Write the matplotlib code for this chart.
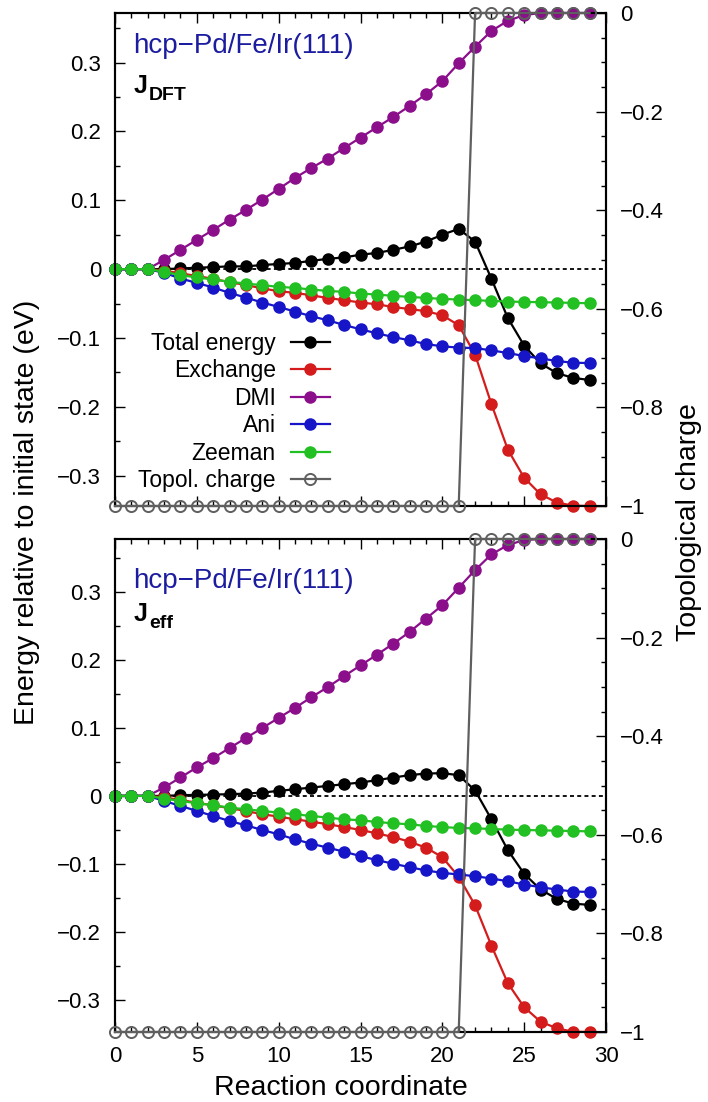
import matplotlib
matplotlib.use("Agg")
import matplotlib.pyplot as plt
from matplotlib.ticker import MultipleLocator, FixedLocator, FixedFormatter

plt.rcParams['font.family'] = ['Liberation Sans', 'DejaVu Sans']

# ---------------- data ----------------
reaction = [0, 1, 2, 3, 4, 5, 6, 7, 8, 9, 10, 11, 12, 13, 14, 15, 16, 17, 18, 19,
            20, 21, 22, 23, 24, 25, 26, 27, 28, 29]

# J_DFT panel
dft_total = [0, 0, 0, 0.000, 0.001, 0.002, 0.003, 0.004, 0.004, 0.006, 0.0075, 0.009,
             0.012, 0.015, 0.017, 0.021, 0.0235, 0.028, 0.033, 0.040, 0.050, 0.0585,
             0.040, -0.014, -0.071, -0.111, -0.137, -0.151, -0.158, -0.161]
dft_exchange = [0, 0, 0, -0.002, -0.006, -0.010, -0.014, -0.019, -0.023, -0.028, -0.032,
                -0.0345, -0.038, -0.042, -0.045, -0.0485, -0.051, -0.055, -0.058, -0.061,
                -0.067, -0.0815, -0.124, -0.196, -0.262, -0.303, -0.327, -0.339, -0.3435,
                -0.344]
dft_dmi = [0, 0, 0, 0.0135, 0.028, 0.0427, 0.057, 0.072, 0.086, 0.101, 0.1165, 0.1325,
           0.147, 0.1606, 0.176, 0.191, 0.206, 0.221, 0.237, 0.254, 0.273, 0.299, 0.323,
           0.346, 0.3606, 0.369, 0.372, 0.372, 0.372, 0.372]
dft_ani = [0, 0, 0, -0.0053, -0.0136, -0.020, -0.0267, -0.0345, -0.0413, -0.0485, -0.0549,
           -0.0617, -0.0684, -0.0743, -0.0811, -0.0874, -0.0932, -0.0986, -0.1034, -0.1088,
           -0.1121, -0.114, -0.1146, -0.118, -0.1218, -0.1262, -0.1296, -0.1335, -0.1359,
           -0.1364]
dft_zeeman = [0, 0, 0, -0.0039, -0.0087, -0.0121, -0.015, -0.0184, -0.0209, -0.0233,
              -0.0257, -0.0272, -0.0296, -0.0316, -0.033, -0.0354, -0.0369, -0.0388,
              -0.0403, -0.0418, -0.0432, -0.0442, -0.0451, -0.0461, -0.0471, -0.0476,
              -0.048, -0.0485, -0.049, -0.0495]
dft_topo = [-1, -1, -1, -1, -1, -1, -1, -1, -1, -1, -1, -1, -1, -1, -1, -1, -1, -1, -1,
            -1, -1, -1, 0, 0, 0, 0, 0, 0, 0, 0]

# J_eff panel
eff_total = [0, 0, 0, 0.0, 0.001, 0.0015, 0.002, 0.0025, 0.0034, 0.0049, 0.0074, 0.0098,
             0.0123, 0.0147, 0.0172, 0.0197, 0.0231, 0.027, 0.0305, 0.0329, 0.0334, 0.0305,
             0.008, -0.0344, -0.0796, -0.1145, -0.1376, -0.1514, -0.1583, -0.1602]
eff_exchange = [0, 0, 0, -0.002, -0.006, -0.010, -0.014, -0.018, -0.0221, -0.027, -0.0304,
                -0.0344, -0.0378, -0.0417, -0.0457, -0.0501, -0.055, -0.0605, -0.0673,
                -0.0761, -0.09, -0.1189, -0.1607, -0.2202, -0.2752, -0.3106, -0.3318,
                -0.3416, -0.3466, -0.347]
eff_dmi = [0, 0, 0, 0.0124, 0.0271, 0.0419, 0.0556, 0.0704, 0.0851, 0.0999, 0.1146, 0.1294,
           0.1451, 0.1599, 0.1761, 0.1918, 0.2075, 0.2237, 0.241, 0.2606, 0.2802, 0.3059,
           0.3319, 0.355, 0.3687, 0.3761, 0.3776, 0.3776, 0.3776, 0.3776]
eff_ani = [0, 0, 0, -0.0074, -0.0147, -0.0221, -0.0295, -0.0369, -0.0432, -0.0501, -0.0565,
           -0.0639, -0.0703, -0.0761, -0.082, -0.0885, -0.0944, -0.0997, -0.1047, -0.1096,
           -0.1131, -0.1155, -0.118, -0.1214, -0.1254, -0.1303, -0.1342, -0.1376, -0.1406,
           -0.1411]
eff_zeeman = [0, 0, 0, -0.0039, -0.0074, -0.0108, -0.0137, -0.0172, -0.0196, -0.0221,
              -0.0245, -0.027, -0.0295, -0.0319, -0.0344, -0.0358, -0.0383, -0.0403,
              -0.0417, -0.0442, -0.0457, -0.0472, -0.0476, -0.0486, -0.0496, -0.0501,
              -0.0506, -0.0511, -0.0516, -0.0521]
eff_topo = [-1, -1, -1, -1, -1, -1, -1, -1, -1, -1, -1, -1, -1, -1, -1, -1, -1, -1, -1,
            -1, -1, -1, 0, 0, 0, 0, 0, 0, 0, 0]

series_labels = ["Total energy", "Exchange", "DMI", "Ani", "Zeeman"]
topo_label = "Topol. charge"
system_label = "hcp\u2212Pd/Fe/Ir(111)"
panel_subscripts = ["DFT", "eff"]

left_ticks = [-0.3, -0.2, -0.1, 0.0, 0.1, 0.2, 0.3]
left_ticklabels = ["\u22120.3", "\u22120.2", "\u22120.1", "0", "0.1", "0.2", "0.3"]
right_ticks = [-1.0, -0.8, -0.6, -0.4, -0.2, 0.0]
right_ticklabels = ["\u22121", "\u22120.8", "\u22120.6", "\u22120.4", "\u22120.2", "0"]
x_ticks = [0, 5, 10, 15, 20, 25, 30]
x_ticklabels = ["0", "5", "10", "15", "20", "25", "30"]

colors = ["#000000", "#d41c1c", "#8b0f8b", "#1616c8", "#22c022"]
topo_color = "#5f5f5f"

# ---------------- figure ----------------
W, H = 708, 1102
fig = plt.figure(figsize=(W / 100, H / 100), dpi=100)


def fx(px):
    return px / W


def fy(py):
    return 1 - py / H


ax_left, ax_right = 115, 606
panels_px = [(13, 506), (539, 1032)]

panel_data = [
    (dft_total, dft_exchange, dft_dmi, dft_ani, dft_zeeman, dft_topo),
    (eff_total, eff_exchange, eff_dmi, eff_ani, eff_zeeman, eff_topo),
]

MS = 8.0

for i, ((ptop, pbot), data) in enumerate(zip(panels_px, panel_data)):
    ax = fig.add_axes([fx(ax_left), fy(pbot), fx(ax_right) - fx(ax_left),
                       fy(ptop) - fy(pbot)])
    energies = data[:5]
    topo = data[5]
    ax.axhline(0, color="black", lw=1.3, ls=(0, (2.2, 1.8)), zorder=1)
    handles = []
    for vals, col, lab in zip(energies, colors, series_labels):
        h, = ax.plot(reaction, vals, color=col, lw=1.6, marker="o", ms=MS,
                     mec=col, mfc=col, label=lab, clip_on=False, zorder=3)
        handles.append(h)
    ax.set_xlim(0, 30)
    ax.set_ylim(min(data[1]), max(data[2]))

    ax.xaxis.set_major_locator(FixedLocator(x_ticks))
    ax.xaxis.set_minor_locator(MultipleLocator(1))
    ax.yaxis.set_major_locator(FixedLocator(left_ticks))
    ax.yaxis.set_major_formatter(FixedFormatter(left_ticklabels))
    ax.yaxis.set_minor_locator(MultipleLocator(0.05))
    if i == 1:
        ax.xaxis.set_major_formatter(FixedFormatter(x_ticklabels))
    else:
        ax.set_xticklabels([])
    ax.tick_params(which="both", direction="in", top=True, bottom=True,
                   left=True, right=False, labelsize=16, width=1.0, pad=10)
    ax.tick_params(which="major", length=7)
    ax.tick_params(which="minor", length=3.5)
    for s in ax.spines.values():
        s.set_linewidth(1.5)

    ax2 = ax.twinx()
    ax2.set_ylim(-1, 0)
    th, = ax2.plot(reaction, topo, color=topo_color, lw=1.6, marker="o", ms=MS,
                   mfc="none", mec=topo_color, mew=1.4, label=topo_label,
                   clip_on=False, zorder=4)
    handles.append(th)
    ax2.yaxis.set_major_locator(FixedLocator(right_ticks))
    ax2.yaxis.set_major_formatter(FixedFormatter(right_ticklabels))
    ax2.yaxis.set_minor_locator(MultipleLocator(0.05))
    ax2.tick_params(which="both", direction="in", right=True, labelsize=16,
                    width=1.0, pad=10)
    ax2.tick_params(which="major", length=7)
    ax2.tick_params(which="minor", length=3.5)
    for s in ax2.spines.values():
        s.set_linewidth(1.5)

    # annotations
    if i == 0:
        fig.text(fx(133), fy(53), system_label, color="#1c1ca0", fontsize=20,
                 va="baseline", ha="left")
        fig.text(fx(134), fy(93), "J", color="black", fontsize=18,
                 fontweight="bold", va="baseline", ha="left")
        fig.text(fx(149), fy(99.5), panel_subscripts[0], color="black",
                 fontsize=14, fontweight="bold", va="baseline", ha="left")
        leg = ax2.legend(handles=handles, loc="center", frameon=False,
                         bbox_to_anchor=(fx(234), fy(412)),
                         bbox_transform=fig.transFigure, fontsize=16.5,
                         markerfirst=False, handlelength=1.7,
                         handletextpad=0.65, labelspacing=0.2, borderpad=0)
        try:
            for vp in leg._legend_handle_box.get_children():
                vp.align = "right"
        except Exception:
            pass
    else:
        fig.text(fx(133), fy(588), system_label, color="#1c1ca0", fontsize=20,
                 va="baseline", ha="left")
        fig.text(fx(134), fy(621), "J", color="black", fontsize=18,
                 fontweight="bold", va="baseline", ha="left")
        fig.text(fx(149), fy(628), panel_subscripts[1], color="black",
                 fontsize=14, fontweight="bold", va="baseline", ha="left")

fig.text(fx(27), fy(512), "Energy relative to initial state (eV)", rotation=90,
         fontsize=20.5, ha="center", va="center")
fig.text(fx(689), fy(522), "Topological charge", rotation=90,
         fontsize=20.5, ha="center", va="center")
fig.text(fx(341), fy(1095), "Reaction coordinate", fontsize=20.5,
         ha="center", va="baseline")

fig.savefig("out.png", dpi=100)
